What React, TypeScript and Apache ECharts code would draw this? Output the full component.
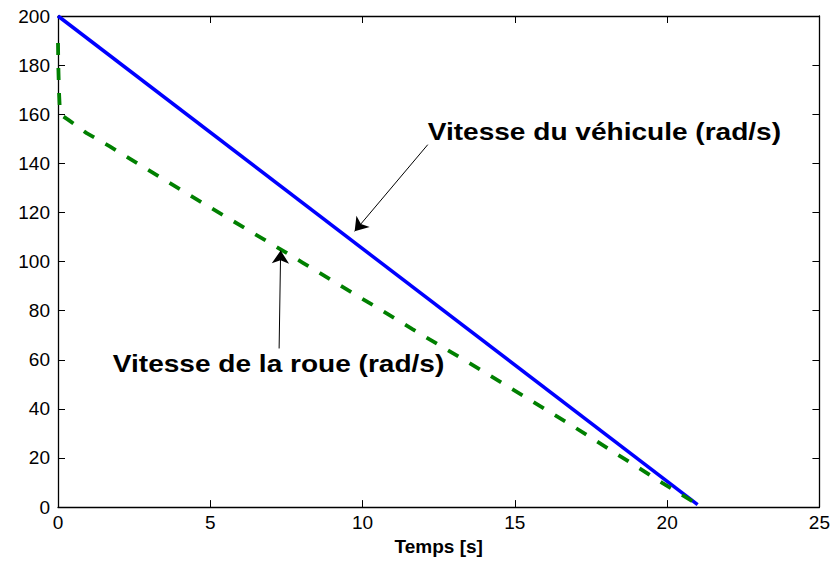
import React, { useEffect, useRef } from "react";
import * as echarts from "echarts";

// Vehicle speed (rad/s) vs time (s)
const vehicleTime = [0, 21];
const vehicleSpeed = [200, 1];

// Wheel speed (rad/s) vs time (s)
const wheelTime = [0, 0.01, 0.03, 0.06, 0.12, 0.34, 0.94, 1.7, 3.35, 5.0, 7.28, 8.04, 11.65, 14.0, 16.9, 19.85, 20.95];
const wheelSpeed = [189, 180, 170, 162, 159.5, 157.7, 152.3, 146.9, 134.4, 122.0, 105.2, 99.5, 72.4, 55.0, 33.0, 9.8, 1.5];

const xTicks = [0, 5, 10, 15, 20, 25];
const yTicks = [0, 20, 40, 60, 80, 100, 120, 140, 160, 180, 200];

const labelVehicle = "Vitesse du véhicule (rad/s)";
const labelWheel = "Vitesse de la roue (rad/s)";
const xName = "Temps [s]";

// annotation anchors in data coordinates
const arrowVehicle = [[12.14, 147.6], [9.74, 112.3]];
const arrowWheel = [[7.26, 64.6], [7.31, 104.5]];
const textVehicleAt = [12.14, 152.8];
const textWheelAt = [1.8, 58.5];

export default function App() {
  const ref = useRef<HTMLDivElement>(null);
  useEffect(() => {
    if (!ref.current) return;
    const chart = echarts.init(ref.current, undefined, { renderer: "svg" });
    const font = "'Liberation Sans', Arial, sans-serif";
    const axisCommon = {
      axisLine: { show: true, onZero: false, lineStyle: { color: "#000", width: 1.3 } },
      axisTick: { show: true, inside: true, length: 7, lineStyle: { color: "#000", width: 1 } },
      splitLine: { show: false },
    };
    const arrowMark = (pts: number[][]) => ({
      silent: true,
      animation: false,
      symbol: ["none", "arrow"],
      symbolSize: 13,
      label: { show: false },
      emphasis: { disabled: true },
      lineStyle: { color: "#000", width: 1, type: "solid" },
      itemStyle: { color: "#000" },
      data: [[{ coord: pts[0] }, { coord: pts[1] }]],
    });
    chart.setOption({
      animation: false,
      backgroundColor: "#fff",
      grid: { left: 58, top: 16, right: 13, bottom: 53, containLabel: false },
      xAxis: [
        {
          type: "value",
          min: xTicks[0],
          max: xTicks[xTicks.length - 1],
          interval: 5,
          position: "bottom",
          ...axisCommon,
          axisLabel: { color: "#000", fontSize: 19, fontFamily: font, margin: 6 },
          name: xName,
          nameLocation: "middle",
          nameGap: 28,
          nameTextStyle: { color: "#000", fontSize: 19, fontWeight: "bold", fontFamily: font },
        },
        {
          type: "value",
          min: xTicks[0],
          max: xTicks[xTicks.length - 1],
          interval: 5,
          position: "top",
          ...axisCommon,
          axisLabel: { show: false },
        },
      ],
      yAxis: [
        {
          type: "value",
          min: yTicks[0],
          max: yTicks[yTicks.length - 1],
          interval: 20,
          position: "left",
          ...axisCommon,
          axisLabel: { color: "#000", fontSize: 19, fontFamily: font, margin: 8 },
        },
        {
          type: "value",
          min: yTicks[0],
          max: yTicks[yTicks.length - 1],
          interval: 20,
          position: "right",
          ...axisCommon,
          axisLabel: { show: false },
        },
      ],
      series: [
        {
          type: "line",
          name: labelVehicle,
          data: vehicleTime.map((t, i) => [t, vehicleSpeed[i]]),
          showSymbol: false,
          lineStyle: { color: "#0000ff", width: 3.5 },
          markLine: arrowMark(arrowVehicle),
        },
        {
          type: "line",
          name: labelWheel,
          data: wheelTime.map((t, i) => [t, wheelSpeed[i]]),
          showSymbol: false,
          lineStyle: { color: "#008000", width: 3.8, type: [12, 13] },
          markLine: arrowMark(arrowWheel),
        },
      ],
    });
    const p1 = chart.convertToPixel({ gridIndex: 0 }, textVehicleAt) as number[];
    const p2 = chart.convertToPixel({ gridIndex: 0 }, textWheelAt) as number[];
    const textStyle = {
      fontSize: 23,
      fontWeight: "bold",
      fontFamily: font,
      fill: "#000",
      align: "left",
      verticalAlign: "middle",
    };
    chart.setOption({
      graphic: [
        { type: "text", x: p1[0], y: p1[1], scaleX: 1.22, style: { ...textStyle, text: labelVehicle } },
        { type: "text", x: p2[0], y: p2[1], scaleX: 1.22, style: { ...textStyle, text: labelWheel } },
      ],
    });
    return () => chart.dispose();
  }, []);
  return (
    <div
      ref={ref}
      style={{ position: "absolute", left: 0, top: 0, width: 833, height: 561, background: "#fff" }}
    />
  );
}
